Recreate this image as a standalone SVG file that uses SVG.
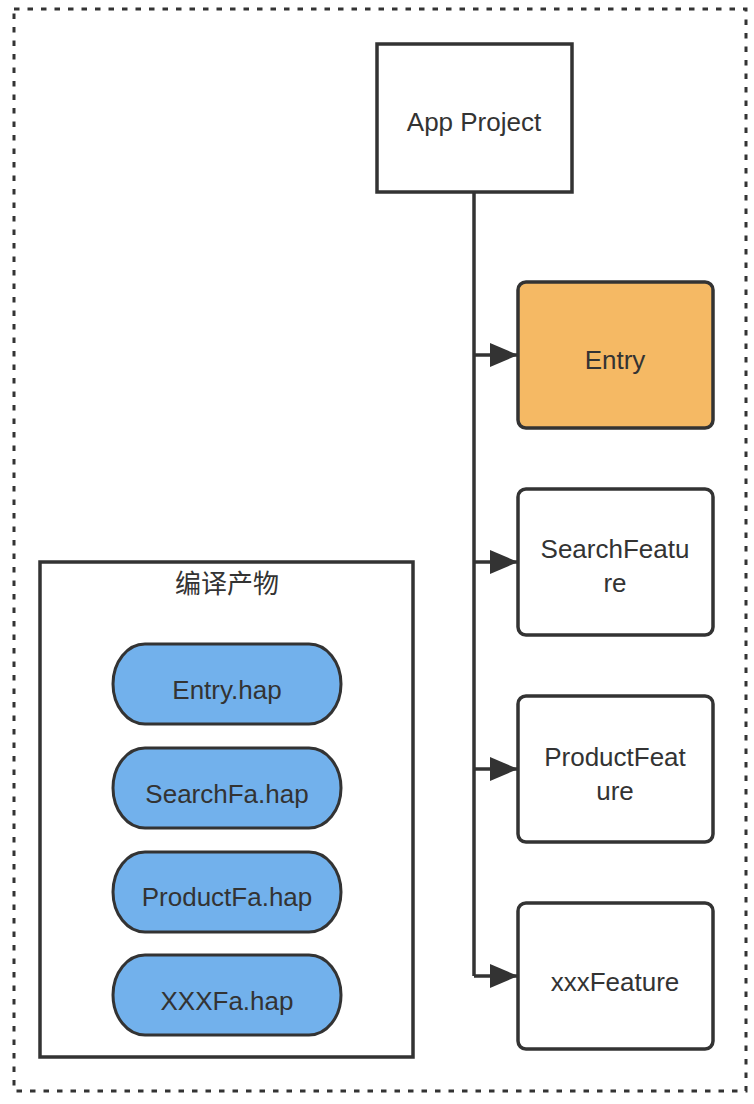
<svg xmlns="http://www.w3.org/2000/svg" width="754" height="1104" viewBox="0 0 754 1104">
<style>
.t{font-family:"Liberation Sans","Noto Sans CJK SC",sans-serif;font-size:26px;fill:#333;text-anchor:middle}
.box{fill:#fff;stroke:#333;stroke-width:3.5}
.feat{fill:#fff;stroke:#333;stroke-width:3.5}
.pill{fill:#72B1EC;stroke:#333;stroke-width:3}
.conn{fill:none;stroke:#333;stroke-width:3.5}
</style>
<defs>
<marker id="arr" markerUnits="userSpaceOnUse" markerWidth="30" markerHeight="24" refX="28" refY="12" orient="auto">
<path d="M0,0 L28,12 L0,24 Z" fill="#333"/>
</marker>
</defs>
<rect x="0" y="0" width="754" height="1104" fill="#fff"/>
<rect id="frame" x="14" y="9" width="732" height="1082" fill="none" stroke="#333" stroke-width="3" stroke-dasharray="5.5 8"/>
<g id="connectors">
<path class="conn" d="M474,192 V976"/>
<path class="conn" d="M474,355 H518" marker-end="url(#arr)"/>
<path class="conn" d="M474,562 H518" marker-end="url(#arr)"/>
<path class="conn" d="M474,769 H518" marker-end="url(#arr)"/>
<path class="conn" d="M474,976 H518" marker-end="url(#arr)"/>
</g>
<g id="app-project">
<rect class="box" x="377" y="44" width="195" height="148"/>
<text class="t" x="474" y="131">App Project</text>
</g>
<g id="entry">
<rect x="518" y="282" width="195" height="146" rx="8" fill="#F5B964" stroke="#333" stroke-width="3.5"/>
<text class="t" x="615" y="369">Entry</text>
</g>
<g id="search-feature">
<rect class="feat" x="518" y="489" width="195" height="146" rx="8"/>
<text class="t" x="615" y="558">SearchFeatu</text>
<text class="t" x="615" y="592">re</text>
</g>
<g id="product-feature">
<rect class="feat" x="518" y="696" width="195" height="146" rx="8"/>
<text class="t" x="615" y="766">ProductFeat</text>
<text class="t" x="615" y="800">ure</text>
</g>
<g id="xxx-feature">
<rect class="feat" x="518" y="903" width="195" height="146" rx="8"/>
<text class="t" x="615" y="991">xxxFeature</text>
</g>
<g id="build-output">
<rect class="box" x="40" y="562" width="373" height="495"/>
<text class="t" x="227" y="593">编译产物</text>
</g>
<g id="entry-hap">
<rect class="pill" x="113" y="644" width="228" height="80" rx="32" ry="40"/>
<text class="t" x="227" y="699">Entry.hap</text>
</g>
<g id="searchfa-hap">
<rect class="pill" x="113" y="748" width="228" height="80" rx="32" ry="40"/>
<text class="t" x="227" y="803">SearchFa.hap</text>
</g>
<g id="productfa-hap">
<rect class="pill" x="113" y="852" width="228" height="80" rx="32" ry="40"/>
<text class="t" x="227" y="906">ProductFa.hap</text>
</g>
<g id="xxxfa-hap">
<rect class="pill" x="113" y="955" width="228" height="80" rx="32" ry="40"/>
<text class="t" x="227" y="1010">XXXFa.hap</text>
</g>
</svg>
